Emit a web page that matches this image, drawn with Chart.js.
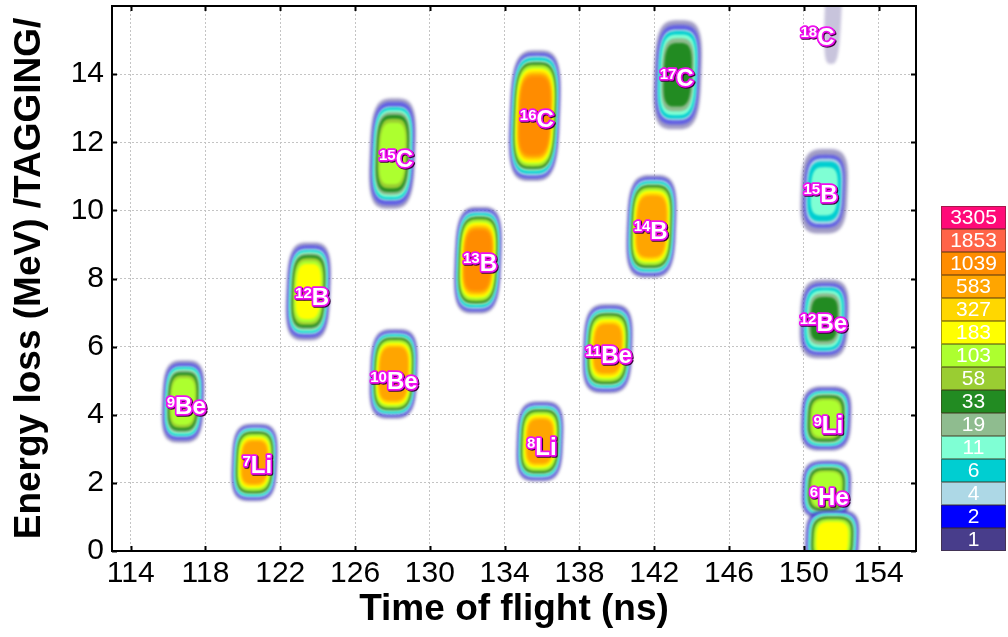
<!DOCTYPE html>
<html>
<head>
<meta charset="utf-8">
<title>Particle identification: energy loss vs time of flight</title>
<script src="https://cdn.jsdelivr.net/npm/chart.js@4.4.1/dist/chart.umd.min.js"></script>
<style>
  html, body { margin: 0; padding: 0; background: #ffffff; }
  canvas { display: block; }
</style>
</head>
<body>
<canvas id="pid" width="1008" height="637"></canvas>
<script>
// Colour scale: lower edge of each count band and the colour of that band
const countLevels = [1, 2, 4, 6, 11, 19, 33, 58, 103, 183, 327, 583, 1039, 1853, 3305];
const levelColors = ['#483d8b', '#0000ff', '#add8e6', '#00ced1', '#7fffd4', '#8fbc8f', '#228b22',
                     '#9acd32', '#adff2f', '#ffff00', '#ffd700', '#ffa500', '#ff8c00', '#ff6347', '#ff0a78'];

// Isotope groups (last entry is the unlabelled group at the bottom of the plot)
const massNumbers = ['9', '7', '12', '10', '15', '13', '8', '16', '11', '14', '17', '18', '15', '12', '9', '6', ''];
const elements    = ['Be', 'Li', 'B', 'Be', 'C', 'B', 'Li', 'C', 'Be', 'B', 'C', 'C', 'B', 'Be', 'Li', 'He', ''];

// Centroid of each group (ns, MeV)
const tofCentre = [116.80, 120.62, 123.50, 128.06, 128.00, 132.57, 135.88, 135.61, 139.51, 141.85, 143.25, 151.60, 151.09, 151.09, 151.19, 151.21, 151.52];
const deCentre  = [4.39, 2.60, 7.62, 5.20, 11.67, 8.54, 3.22, 12.78, 5.94, 9.53, 13.98, 16.30, 10.56, 6.81, 3.89, 1.81, 0.35];

// Outer half-extent of each group (ns, MeV)
const tofHalfWidth = [1.12, 1.22, 1.18, 1.27, 1.22, 1.25, 1.25, 1.35, 1.32, 1.32, 1.27, 0.45, 1.25, 1.30, 1.35, 1.33, 1.46];
const deHalfHeight = [1.21, 1.14, 1.44, 1.32, 1.62, 1.57, 1.18, 1.92, 1.31, 1.51, 1.60, 2.00, 1.24, 1.16, 0.95, 0.86, 0.87];

// Peak counts per bin in each group
const peakCounts = [120, 600, 200, 1000, 110, 1200, 600, 1800, 600, 1000, 40, 1, 12, 34, 120, 150, 250];

// Label anchor of each group (ns, MeV)
const labelTof = [116.97, 120.77, 123.70, 128.08, 128.19, 132.68, 135.99, 135.72, 139.56, 141.81, 143.20, 150.73, 150.89, 151.05, 151.31, 151.36, null];
const labelDe  = [4.27, 2.54, 7.46, 5.00, 11.52, 8.48, 3.07, 12.69, 5.76, 9.42, 13.89, 15.12, 10.50, 6.70, 3.71, 1.61, null];

// Axes
const xTicks = [114, 118, 122, 126, 130, 134, 138, 142, 146, 150, 154];
const yTicks = [0, 2, 4, 6, 8, 10, 12, 14];
const xRange = [113, 156];
const yRange = [0, 16];

const FONT = '"Liberation Sans", Arial, Helvetica, sans-serif';
Chart.defaults.font.family = FONT;
Chart.defaults.color = '#000000';

// Closed rounded-square outline centred on (cx, cy) in pixels
function groupOutline(ctx, cx, cy, ax, ay) {
  const n = 120, q = 3.5, shear = 0.04;
  ctx.beginPath();
  for (let k = 0; k < n; k++) {
    const t = (k / n) * Math.PI * 2;
    const c = Math.cos(t), s = Math.sin(t);
    const ux = Math.sign(c) * Math.pow(Math.abs(c), 2 / q);
    const uy = Math.sign(s) * Math.pow(Math.abs(s), 2 / q);
    const px = cx + ax * ux - shear * ay * uy;
    const py = cy + ay * uy;
    if (k === 0) ctx.moveTo(px, py); else ctx.lineTo(px, py);
  }
  ctx.closePath();
}

// Relative size of the contour of a band, from its log-count position u in [0, 1]
function bandScale(u) {
  return 1 - 0.12 * Math.min(u / 0.3, 1) - 0.33 * u * u;
}

// Contour bands of every group, nested from the lowest count band inwards
const groupsPlugin = {
  id: 'isotopeGroups',
  beforeDatasetsDraw(chart) {
    const { ctx, chartArea: a, scales: { x, y } } = chart;
    ctx.save();
    ctx.beginPath();
    ctx.rect(a.left, a.top, a.right - a.left, a.bottom - a.top);
    ctx.clip();
    for (let g = 0; g < tofCentre.length; g++) {
      const cx = x.getPixelForValue(tofCentre[g]);
      const cy = y.getPixelForValue(deCentre[g]);
      const ax = Math.abs(x.getPixelForValue(tofCentre[g] + tofHalfWidth[g]) - cx);
      const ay = Math.abs(y.getPixelForValue(deCentre[g] + deHalfHeight[g]) - cy);
      const peak = peakCounts[g];
      const logPeak = Math.log(Math.max(peak, 1.0001));
      for (let i = 0; i < countLevels.length; i++) {
        if (countLevels[i] > peak) break;
        const u = Math.min(Math.log(countLevels[i]) / logPeak, 1);
        const s = bandScale(u);
        if (i === 0) {
          ctx.filter = 'blur(1.8px)';
          ctx.fillStyle = peak <= 1 ? 'rgba(72,61,139,0.3)' : 'rgba(72,61,139,0.5)';
        } else if (i === 1) {
          ctx.filter = 'blur(1.4px)';
          ctx.fillStyle = 'rgba(40,40,255,0.55)';
        } else {
          ctx.filter = 'blur(0.8px)';
          ctx.fillStyle = levelColors[i];
        }
        groupOutline(ctx, cx, cy, ax * s, ay * s);
        ctx.fill();
      }
    }
    ctx.filter = 'none';
    ctx.restore();
  },
  afterDatasetsDraw(chart) {
    const { ctx, scales: { x, y } } = chart;
    ctx.save();
    for (let g = 0; g < labelTof.length; g++) {
      if (labelTof[g] === null) continue;
      drawIsotopeLabel(ctx, x.getPixelForValue(labelTof[g]), y.getPixelForValue(labelDe[g]),
                       massNumbers[g], elements[g]);
    }
    ctx.restore();
  }
};

// White isotope label with magenta outline and a superscript mass number
function drawIsotopeLabel(ctx, xc, yc, mass, sym) {
  const big = 24, small = 15;
  ctx.font = `bold ${big}px ${FONT}`;
  const wSym = ctx.measureText(sym).width;
  ctx.font = `bold ${small}px ${FONT}`;
  const wMass = ctx.measureText(mass).width;
  const x0 = xc - (wMass + wSym) / 2;
  const base = yc + 0.716 * big / 2;
  const supBase = base - 0.716 * big + 0.716 * small - 1;
  const parts = [
    { text: mass, size: small, px: x0, py: supBase },
    { text: sym, size: big, px: x0 + wMass, py: base }
  ];
  ctx.lineJoin = 'round';
  ctx.textBaseline = 'alphabetic';
  ctx.textAlign = 'left';
  for (const p of parts) {
    ctx.font = `bold ${p.size}px ${FONT}`;
    ctx.strokeStyle = '#3a003a';
    ctx.lineWidth = 3.5;
    ctx.strokeText(p.text, p.px + 1, p.py + 1);
  }
  for (const p of parts) {
    ctx.font = `bold ${p.size}px ${FONT}`;
    ctx.strokeStyle = '#f010f0';
    ctx.lineWidth = 3.5;
    ctx.strokeText(p.text, p.px, p.py);
  }
  for (const p of parts) {
    ctx.font = `bold ${p.size}px ${FONT}`;
    ctx.fillStyle = '#ffffff';
    ctx.fillText(p.text, p.px, p.py);
  }
}

// Plot frame with inward ticks on all four sides, plus the colour key
const framePlugin = {
  id: 'frameAndKey',
  afterDraw(chart) {
    const { ctx, chartArea: a, scales: { x, y } } = chart;
    ctx.save();
    ctx.strokeStyle = '#000000';
    ctx.lineWidth = 2;
    ctx.strokeRect(a.left, a.top, a.right - a.left, a.bottom - a.top);
    const tl = 5;
    ctx.beginPath();
    for (const v of xTicks) {
      const px = Math.round(x.getPixelForValue(v)) + 0.5;
      ctx.moveTo(px, a.bottom); ctx.lineTo(px, a.bottom - tl);
      ctx.moveTo(px, a.top); ctx.lineTo(px, a.top + tl);
    }
    for (const v of yTicks) {
      const py = Math.round(y.getPixelForValue(v)) + 0.5;
      ctx.moveTo(a.left, py); ctx.lineTo(a.left + tl, py);
      ctx.moveTo(a.right, py); ctx.lineTo(a.right - tl, py);
    }
    ctx.stroke();

    // colour key, highest band on top
    const kx = 941, kw = 65, kTop = 206, kh = 23;
    ctx.font = `21px ${FONT}`;
    ctx.textAlign = 'center';
    ctx.textBaseline = 'middle';
    for (let i = countLevels.length - 1, r = 0; i >= 0; i--, r++) {
      const ty = kTop + r * kh;
      ctx.fillStyle = levelColors[i];
      ctx.fillRect(kx, ty, kw, kh);
      ctx.strokeStyle = 'rgba(60,40,20,0.45)';
      ctx.lineWidth = 1;
      ctx.strokeRect(kx + 0.5, ty + 0.5, kw - 1, kh - 1);
      ctx.fillStyle = '#ffffff';
      ctx.fillText(String(countLevels[i]), kx + kw / 2, ty + kh / 2 + 1);
    }
    ctx.restore();
  }
};

const centres = tofCentre.map((t, i) => ({ x: t, y: deCentre[i] }));

new Chart(document.getElementById('pid'), {
  type: 'scatter',
  data: { datasets: [{ data: centres, pointRadius: 0, pointHoverRadius: 0, showLine: false }] },
  options: {
    responsive: false,
    animation: false,
    events: [],
    layout: { padding: { left: 0, right: 92, top: 6, bottom: 0 } },
    plugins: { legend: { display: false }, tooltip: { enabled: false } },
    scales: {
      x: {
        type: 'linear',
        min: xRange[0], max: xRange[1],
        afterBuildTicks: s => { s.ticks = xTicks.map(v => ({ value: v })); },
        afterFit: s => { s.height = 86; s.paddingLeft = 0; s.paddingRight = 0; },
        grid: { color: '#c4c4c4', lineWidth: 1, drawTicks: false },
        border: { display: false, dash: [2, 2] },
        ticks: { font: { size: 30 }, padding: 5, maxRotation: 0, color: '#000' },
        title: { display: true, text: 'Time of flight (ns)', font: { size: 37, weight: 'bold' },
                 padding: { top: 0, bottom: 5 }, color: '#000' }
      },
      y: {
        type: 'linear',
        min: yRange[0], max: yRange[1],
        afterBuildTicks: s => { s.ticks = yTicks.map(v => ({ value: v })); },
        afterFit: s => { s.width = 112; s.paddingTop = 0; s.paddingBottom = 0; },
        grid: { color: '#c4c4c4', lineWidth: 1, drawTicks: false },
        border: { display: false, dash: [2, 2] },
        ticks: { font: { size: 30 }, padding: 8, color: '#000' },
        title: { display: true, text: 'Energy loss (MeV) /TAGGING/', font: { size: 37, weight: 'bold' },
                 padding: { top: 8, bottom: 0 }, color: '#000' }
      }
    }
  },
  plugins: [groupsPlugin, framePlugin]
});
</script>
</body>
</html>
